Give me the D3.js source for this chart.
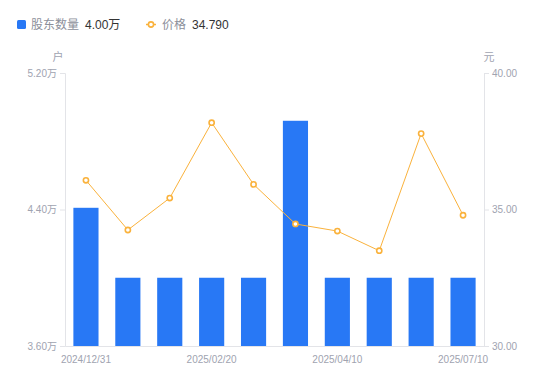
<!DOCTYPE html>
<html><head><meta charset="utf-8">
<script src="https://cdn.jsdelivr.net/npm/d3@7"></script>
<style>
html,body{margin:0;padding:0;background:#fff;}
svg{display:block;font-family:"Liberation Sans","Noto Sans CJK SC",sans-serif;}
</style></head>
<body><svg id="c" width="550" height="381"></svg>
<script>
const categories = ["2024/12/31","2025/01/10","2025/01/20","2025/02/20","2025/02/28","2025/03/10","2025/04/10","2025/04/30","2025/06/30","2025/07/10"];
const holders = [4.41, 4.00, 4.00, 4.00, 4.00, 4.92, 4.00, 4.00, 4.00, 4.00]; // 万户
const prices = [36.07, 34.25, 35.42, 38.18, 35.92, 34.47, 34.21, 33.49, 37.78, 34.79];
const leftTicks = [3.6, 4.4, 5.2];
const rightTicks = [30, 35, 40];
const tickLabelIdx = [0, 3, 6, 9];

const svg = d3.select("#c");
const L = 65, R = 484, T = 73, B = 346;
const blue = "#2878F5", orange = "#FAB23C", gray = "#A0A3B0";
const FONT = "'Liberation Sans','Noto Sans CJK SC',sans-serif";

const x = d3.scaleBand().domain(categories).range([L, R]).paddingInner(0.4).paddingOuter(0.2);
const yL = d3.scaleLinear().domain([3.6, 5.2]).range([B, T]);
const yR = d3.scaleLinear().domain([30, 40]).range([B, T]);

// axes
const axL = svg.append("g").attr("transform", `translate(${L},0)`)
  .call(d3.axisLeft(yL).tickValues(leftTicks).tickSize(5).tickPadding(3).tickFormat(d => d3.format(".2f")(d) + "万"));
const axR = svg.append("g").attr("transform", `translate(${R},0)`)
  .call(d3.axisRight(yR).tickValues(rightTicks).tickSize(5).tickPadding(3).tickFormat(d3.format(".2f")));
const axB = svg.append("g").attr("transform", `translate(0,${B})`)
  .call(d3.axisBottom(x).tickValues(tickLabelIdx.map(i => categories[i])).tickSize(0).tickPadding(6));
[axL, axR, axB].forEach(a => {
  a.select(".domain").attr("stroke", "#E3E4E8");
  a.selectAll(".tick line").attr("stroke", "#E3E4E8");
  a.selectAll("text").attr("fill", gray).style("font-size", "10px").style("font-family", FONT);
});
axB.selectAll("text").attr("dy", "1.05em");

// unit labels
svg.append("text").attr("x", 58).attr("y", 61).attr("text-anchor", "middle").attr("fill", gray).style("font-size", "11px").text("户");
svg.append("text").attr("x", 489).attr("y", 61).attr("text-anchor", "middle").attr("fill", gray).style("font-size", "11px").text("元");

// bars
svg.append("g").selectAll("rect").data(holders).join("rect")
  .attr("x", (d, i) => x(categories[i]))
  .attr("width", x.bandwidth())
  .attr("y", d => yL(d))
  .attr("height", d => B - yL(d))
  .attr("fill", blue);

// line
const line = d3.line().x((d, i) => x(categories[i]) + x.bandwidth() / 2).y(d => yR(d));
svg.append("path").datum(prices).attr("d", line).attr("fill", "none").attr("stroke", orange).attr("stroke-width", 1);
svg.append("g").selectAll("circle").data(prices).join("circle")
  .attr("cx", (d, i) => x(categories[i]) + x.bandwidth() / 2)
  .attr("cy", d => yR(d))
  .attr("r", 2.6)
  .attr("fill", "#fff").attr("stroke", orange).attr("stroke-width", 1.6);

// legend
const lg = svg.append("g").style("font-family", FONT);
lg.append("rect").attr("x", 17).attr("y", 20).attr("width", 9).attr("height", 9).attr("rx", 1.5).attr("fill", blue);
lg.append("text").attr("x", 31).attr("y", 29).attr("fill", "#8C8F9A").style("font-size", "12px").text("股东数量");
lg.append("text").attr("x", 85).attr("y", 29).attr("fill", "#333").style("font-size", "12px").text(d3.format(".2f")(holders[holders.length - 1]) + "万");
lg.append("line").attr("x1", 146).attr("x2", 156).attr("y1", 24.5).attr("y2", 24.5).attr("stroke", orange).attr("stroke-width", 1.5);
lg.append("circle").attr("cx", 151).attr("cy", 24.5).attr("r", 2.6).attr("fill", "#fff").attr("stroke", orange).attr("stroke-width", 1.6);
lg.append("text").attr("x", 162).attr("y", 29).attr("fill", "#8C8F9A").style("font-size", "12px").text("价格");
lg.append("text").attr("x", 192).attr("y", 29).attr("fill", "#333").style("font-size", "12px").text(d3.format(".3f")(prices[prices.length - 1]));
</script></body></html>
